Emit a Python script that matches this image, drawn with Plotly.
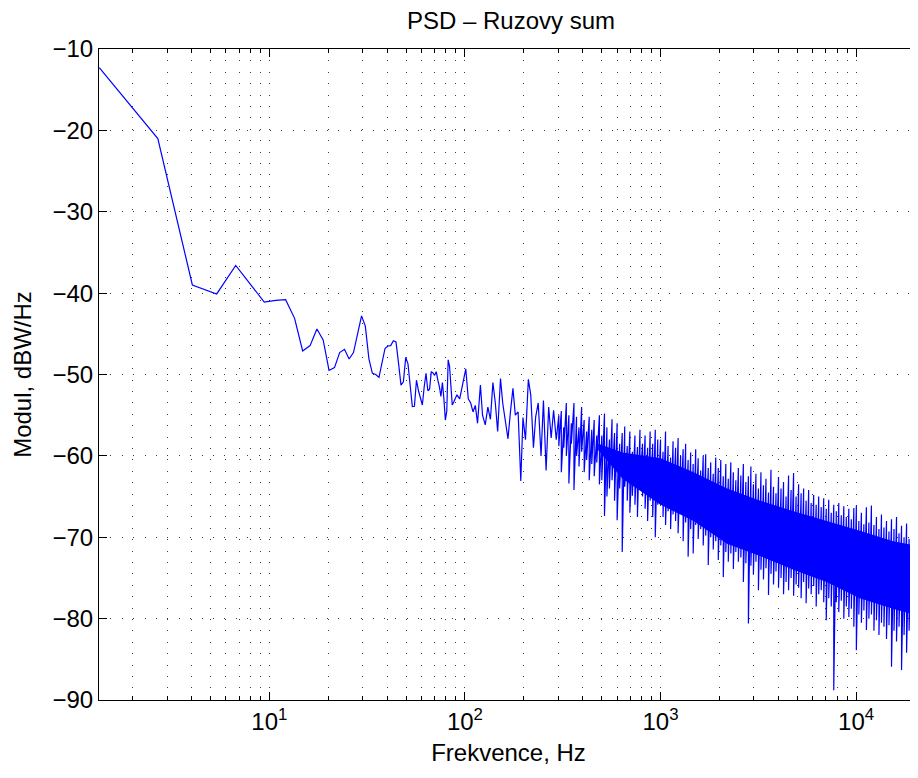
import math
import plotly.graph_objects as go

# Welch PSD of pink noise (fs = 44.1 kHz), values in dBW/Hz

# first bins, 1.3458 Hz apart
freq_low = [1.35, 2.69, 4.04, 5.38, 6.73, 8.07, 9.42, 10.77, 12.11, 13.46,
            14.80, 16.15, 17.50, 18.84, 20.19, 21.53, 22.88, 24.22, 25.57, 26.92,
            28.26, 29.61, 30.95, 32.30, 33.65, 34.99, 36.34, 37.68, 39.03, 40.37,
            41.72, 43.07, 44.41, 45.76, 47.10, 48.45, 49.80, 51.14, 52.49, 53.83,
            55.18, 56.52, 57.87, 59.22, 60.56, 61.91, 63.25, 64.60, 65.94, 67.29,
            68.64, 69.98, 71.33, 72.67, 74.02, 75.36, 76.71, 78.06, 79.40, 80.75,
            82.09, 83.44, 84.79, 86.13]
psd_low = [-12.3, -21.0, -39.0, -40.1, -36.6, -39.0, -41.1, -40.9, -40.8, -43.1,
           -47.1, -46.45, -44.4, -45.75, -49.5, -49.15, -47.3, -46.9, -48.1, -47.3,
           -45.1, -42.8, -44.05, -48.1, -49.85, -50.0, -50.35, -48.6, -46.8, -46.5,
           -46.45, -45.85, -46.0, -48.6, -51.3, -50.9, -47.9, -48.7, -51.0, -53.95,
           -53.9, -50.7, -52.0, -53.0, -53.75, -51.5, -49.85, -52.0, -51.8, -49.65,
           -49.8, -50.1, -49.65, -50.7, -51.5, -52.7, -51.0, -53.0, -55.6, -54.5,
           -48.2, -49.0, -51.0, -53.75]

# 88 .. 293 Hz, peaks and dips
freq_mid = [88, 91, 94, 97, 101, 104, 107, 110, 113, 116,
            120, 123, 127, 131, 135, 139, 143, 147, 152, 156,
            161, 166, 171, 176, 181, 187, 193, 198, 204, 211,
            217, 224, 230, 237, 245, 252, 260, 268, 276, 284, 293]
psd_mid = [-53.3, -52.5, -53.0, -51.5, -49.3, -53.0, -53.5, -54.6, -53.8, -56.0,
           -51.3, -55.0, -56.2, -54.0, -55.5, -51.0, -53.5, -57.0, -50.5, -53.5,
           -55.5, -57.9, -54.5, -51.7, -55.0, -54.6, -63.1, -55.3, -58.0, -50.6,
           -52.5, -59.0, -55.2, -53.5, -60.0, -53.2, -61.8, -54.0, -57.8, -54.4, -58.0]

# 302 Hz .. Nyquist: top and bottom of the spikes at each step
freq_dense = [302, 311, 320, 330, 340, 350, 361, 372, 383, 395,
              407, 419, 432, 445, 458, 472, 487, 501, 517, 532,
              548, 565, 582, 600, 618, 637, 656, 676, 697, 718,
              740, 762, 785, 809, 834, 859, 885, 912, 940, 968,
              1000, 1030, 1061, 1093, 1126, 1159, 1194, 1230, 1267, 1305,
              1344, 1384, 1426, 1469, 1513, 1558, 1605, 1653, 1702, 1754,
              1806, 1860, 1916, 1974, 2033, 2094, 2157, 2221, 2288, 2357,
              2427, 2500, 2575, 2652, 2732, 2814, 2898, 2985, 3075, 3167,
              3262, 3360, 3461, 3565, 3671, 3782, 3895, 4012, 4132, 4256,
              4384, 4515, 4651, 4790, 4934, 5082, 5235, 5392, 5553, 5720,
              5892, 6068, 6250, 6438, 6631, 6830, 7035, 7246, 7463, 7687,
              7918, 8155, 8400, 8652, 8911, 9179, 9454, 9738, 10030, 10331,
              10641, 10960, 11289, 11627, 11976, 12336, 12706, 13087, 13480, 13884,
              14300, 14729, 15171, 15626, 16095, 16578, 17075, 17588, 18115, 18659,
              19218, 19795, 20389, 21000, 21630, 22050]
psd_dense_top = [-55.0, -54.5, -56.5, -53.5, -55.0, -56.0, -53.5, -55.2, -56.5, -54.0,
                 -55.6, -57.0, -55.2, -56.8, -55.6, -57.5, -55.0, -57.5, -54.8, -56.5,
                 -58.0, -55.5, -57.2, -56.0, -58.5, -57.2, -56.4, -58.8, -57.0, -59.5,
                 -57.5, -58.9, -56.8, -58.5, -57.5, -59.0, -57.0, -58.5, -56.8, -58.0,
                 -58.0, -59.5, -57.0, -58.8, -60.2, -58.2, -59.0, -57.8, -60.0, -59.2,
                 -58.5, -60.5, -59.6, -61.0, -59.2, -60.3, -61.8, -60.0, -59.8, -61.5,
                 -60.8, -62.2, -60.2, -61.5, -60.5, -62.5, -61.0, -62.8, -60.8, -62.0,
                 -63.0, -61.5, -62.4, -61.0, -63.2, -62.5, -61.3, -63.5, -62.2, -64.0,
                 -62.0, -63.6, -62.8, -64.5, -61.7, -63.8, -64.6, -62.6, -64.0, -63.2,
                 -65.0, -62.4, -64.2, -62.1, -65.0, -63.5, -64.6, -64.0, -65.5, -64.2,
                 -65.8, -64.8, -66.0, -65.0, -66.3, -65.2, -66.5, -65.4, -67.0, -66.0,
                 -66.8, -65.8, -67.3, -66.2, -67.5, -66.5, -67.8, -66.4, -66.1, -68.0,
                 -67.0, -68.4, -66.3, -68.2, -66.1, -68.5, -67.5, -69.0, -67.2, -68.8,
                 -68.0, -69.3, -67.8, -69.0, -67.5, -69.5, -68.6, -70.0, -68.3, -70.2,
                 -69.0, -70.8, -69.8, -70.4, -69.5, -70.0]
psd_dense_bottom = [-58.8, -62.0, -59.0, -60.0, -63.4, -58.5, -64.2, -60.0, -61.3, -59.5,
                    -62.0, -60.5, -63.0, -61.0, -62.5, -60.8, -63.5, -63.0, -67.4, -65.0,
                    -64.0, -63.0, -65.5, -67.9, -64.0, -71.8, -63.8, -65.5, -67.0, -64.9,
                    -66.0, -67.5, -63.4, -65.0, -66.5, -68.0, -65.5, -67.5, -70.0, -66.0,
                    -66.0, -67.5, -68.5, -66.8, -69.0, -67.2, -68.0, -69.5, -67.0, -70.5,
                    -68.2, -72.4, -69.0, -72.0, -68.5, -70.2, -69.0, -71.0, -69.8, -73.4,
                    -70.0, -71.5, -70.5, -72.8, -71.0, -74.9, -71.8, -73.0, -72.0, -73.9,
                    -71.8, -73.0, -72.5, -75.5, -73.2, -80.6, -73.5, -74.6, -73.0, -76.5,
                    -74.0, -75.2, -73.8, -77.1, -74.5, -75.8, -74.2, -76.2, -75.0, -77.0,
                    -75.5, -76.5, -75.0, -77.2, -75.8, -76.2, -77.5, -75.5, -78.1, -76.3,
                    -77.0, -76.0, -78.5, -77.0, -76.5, -78.0, -80.2, -77.5, -78.5, -88.8,
                    -78.0, -79.2, -77.8, -80.0, -78.5, -79.8, -78.8, -81.0, -83.9, -79.5,
                    -80.5, -79.0, -81.4, -80.0, -79.5, -81.5, -80.2, -82.0, -80.5, -81.0,
                    -82.5, -80.8, -85.9, -81.5, -82.8, -81.0, -86.3, -82.0, -84.2, -81.5,
                    -83.5, -82.2, -84.9, -82.5, -83.0, -81.0]

# solid core of the dense band
band_freq = [480, 640, 1000, 1475, 2190, 3230, 4780, 7070, 10450, 15450, 22050]
band_top = [-58.5, -59.6, -60.3, -62.0, -64.0, -65.5, -66.8, -68.0, -69.2, -70.5, -71.2]
band_bottom = [-59.3, -62.8, -66.0, -68.0, -70.8, -72.3, -74.0, -75.5, -77.5, -78.8, -79.8]

x_tick_vals = [10, 100, 1000, 10000]
x_tick_text = ["10<sup>1</sup>", "10<sup>2</sup>", "10<sup>3</sup>", "10<sup>4</sup>"]
y_tick_vals = [-90, -80, -70, -60, -50, -40, -30, -20, -10]

BLUE = "#0000FF"
FONT = "Liberation Sans, Arial, Helvetica, sans-serif"
GRID_DASH = "1px,10.4px"
GRID_COLOR = "#3a3a3a"

# each dense step is drawn as a stem from its top to its bottom value
dense_x, dense_y = [], []
for f, top, bottom in zip(freq_dense, psd_dense_top, psd_dense_bottom):
    dense_x += [f, f]
    dense_y += [top, bottom]

fig = go.Figure()

fig.add_trace(go.Scatter(
    x=band_freq, y=band_bottom, mode="lines",
    line=dict(color=BLUE, width=0), hoverinfo="skip", showlegend=False,
))
fig.add_trace(go.Scatter(
    x=band_freq, y=band_top, mode="lines", fill="tonexty",
    fillcolor=BLUE, line=dict(color=BLUE, width=0),
    hoverinfo="skip", showlegend=False,
))

fig.add_trace(go.Scatter(
    x=freq_low + freq_mid + dense_x,
    y=psd_low + psd_mid + dense_y,
    mode="lines",
    line=dict(color=BLUE, width=1.2),
    showlegend=False,
    hovertemplate="%{x:.1f} Hz<br>%{y:.1f} dBW/Hz<extra></extra>",
))

axis_common = dict(
    showline=True, linecolor="black", linewidth=1,
    ticks="inside", ticklen=8, tickcolor="black", tickwidth=1,
    showgrid=True, gridcolor=GRID_COLOR, gridwidth=1, griddash=GRID_DASH,
    zeroline=False,
    tickfont=dict(family=FONT, size=24, color="black"),
)

# the page body has an 8px margin, so the figure is shifted by 8px
fig.update_layout(
    width=910, height=762,
    margin=dict(l=91, r=0, t=41, b=70),
    plot_bgcolor="white", paper_bgcolor="white",
    font=dict(family=FONT, size=24, color="black"),
    title=dict(
        text="PSD – Ruzovy sum",
        font=dict(family=FONT, size=24, color="black"),
        x=503 / 910, xanchor="center", xref="container",
        y=1 - 13 / 762, yanchor="middle", yref="container",
    ),
    xaxis=dict(
        type="log",
        range=[math.log10(1.3458), 4.3165],
        tickvals=x_tick_vals, ticktext=x_tick_text,
        mirror="allticks",
        minor=dict(dtick="D1", ticks="inside", ticklen=4, tickcolor="black",
                   showgrid=True, gridcolor=GRID_COLOR, gridwidth=1, griddash=GRID_DASH),
        title=dict(text="Frekvence, Hz", standoff=10,
                   font=dict(family=FONT, size=24, color="black")),
        **axis_common,
    ),
    yaxis=dict(
        range=[-90, -10],
        tickvals=y_tick_vals,
        mirror=False,
        title=dict(text="Modul, dBW/Hz", standoff=14,
                   font=dict(family=FONT, size=24, color="black")),
        **axis_common,
    ),
)

fig.write_html("out.html")
